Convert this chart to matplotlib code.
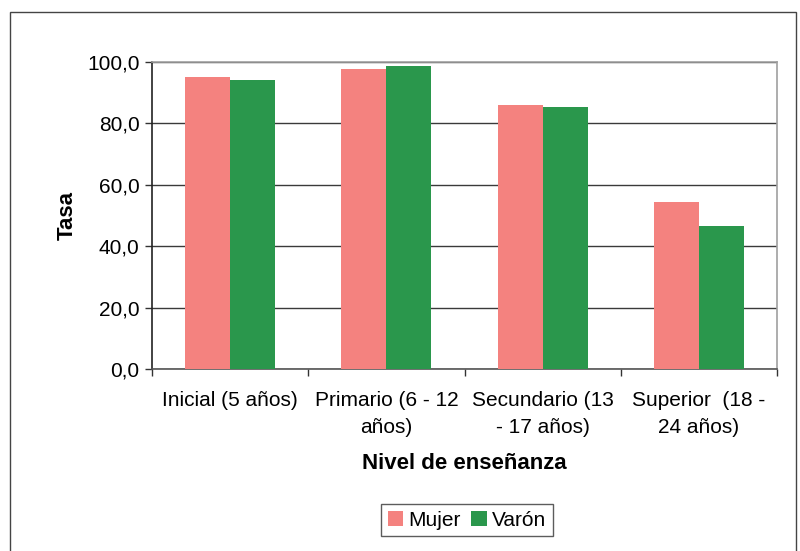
import matplotlib.pyplot as plt
import numpy as np
from matplotlib.patches import Rectangle

# data
categories = ['Inicial (5 años)', 'Primario (6 - 12\naños)',
              'Secundario (13\n- 17 años)', 'Superior  (18 -\n24 años)']
mujer = [95.1, 97.7, 86.0, 54.4]
varon = [94.1, 98.7, 85.3, 46.6]
yticks = [0, 20, 40, 60, 80, 100]
ytick_labels = ['0,0', '20,0', '40,0', '60,0', '80,0', '100,0']

PINK = '#F4827F'
GREEN = '#2A974C'

plt.rcParams['font.family'] = ['Liberation Sans', 'DejaVu Sans']

fig = plt.figure(figsize=(8, 5.51), dpi=100)
ax = fig.add_axes([152 / 800, 1 - 369 / 551, (777 - 152) / 800, (369 - 62) / 551])

x = np.arange(len(categories))
w = 0.288
ax.bar(x - w / 2, mujer, w, color=PINK, label='Mujer', zorder=3)
ax.bar(x + w / 2, varon, w, color=GREEN, label='Varón', zorder=3)

ax.set_xlim(-0.5, len(categories) - 0.5)
ax.set_ylim(0, 100)
ax.set_yticks(yticks)
ax.set_yticklabels(ytick_labels, fontsize=15)
ax.set_xticks(x)
ax.set_xticklabels(categories, fontsize=15, linespacing=1.55)
# tick marks sit between categories, like in the spreadsheet chart
ax.set_xticks(np.arange(-0.5, len(categories)), minor=True)
ax.tick_params(axis='x', which='major', length=0, pad=16)
ax.tick_params(axis='x', which='minor', length=5, width=1, color='#333333')
ax.tick_params(axis='y', length=5, width=1, color='#333333', pad=4)

ax.grid(axis='y', color='#3a3a3a', linewidth=1, zorder=0)
ax.spines['left'].set_color('#222222')
ax.spines['bottom'].set_color('#555555')
ax.spines['top'].set_color('#a0a0a0')
ax.spines['right'].set_color('#a0a0a0')
for s in ax.spines.values():
    s.set_linewidth(1.2)

ax.set_ylabel('Tasa', fontsize=16, fontweight='bold', labelpad=7)
ax.set_xlabel('Nivel de enseñanza', fontsize=16, fontweight='bold', labelpad=11)

leg = ax.legend(loc='center', bbox_to_anchor=(467 / 800, 1 - 520 / 551),
                bbox_transform=fig.transFigure, ncol=2, fontsize=15,
                frameon=True, fancybox=False, edgecolor='#333333',
                handlelength=0.75, handleheight=0.75, handletextpad=0.25,
                columnspacing=0.5, borderpad=0.3)
leg.get_frame().set_linewidth(1)

# outer chart border
fig.patches.append(Rectangle((10 / 800, -0.01), 0.995 - 10 / 800, 1 - 12 / 551 + 0.01,
                             transform=fig.transFigure, fill=False,
                             edgecolor='#444444', linewidth=1))

plt.savefig('out.png')
